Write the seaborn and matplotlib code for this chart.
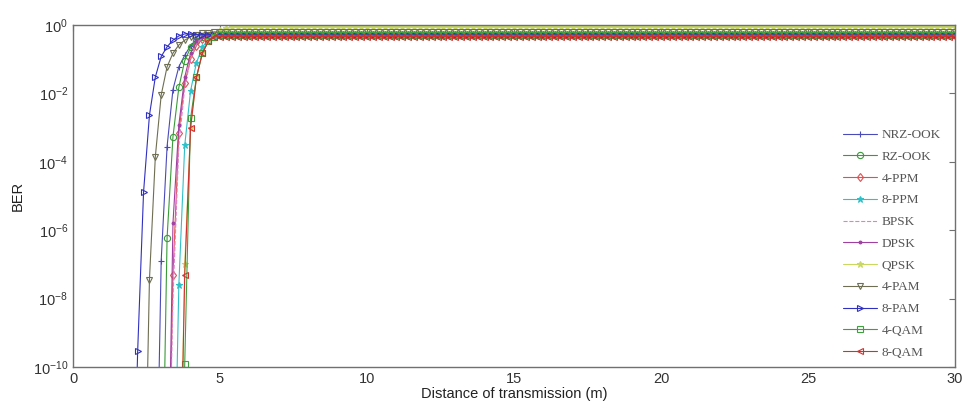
import numpy as np
import pandas as pd
import matplotlib
matplotlib.use("Agg")
import matplotlib.pyplot as plt
import seaborn as sns

# ---------------- data ----------------
series_names = ["NRZ-OOK", "RZ-OOK", "4-PPM", "8-PPM", "BPSK", "DPSK",
                "QPSK", "4-PAM", "8-PAM", "4-QAM", "8-QAM"]
step_m = 0.2            # sampling step of the distance axis (m)
max_distance = 30.0
# distance (m) of the first sample of each rising section
rise_start = [2.8, 3.0, 3.2, 3.4, 3.2, 3.2, 3.6, 2.4, 2.0, 3.6, 3.6]
# BER values of the rising section, one per step
nrz_ook = [1e-16, 1.3e-7, 2.8e-4, 1.3e-2, 0.06, 0.13, 0.25, 0.38, 0.46]
rz_ook  = [1e-16, 6e-7, 5.4e-4, 1.5e-2, 0.09, 0.22, 0.35, 0.45]
ppm4    = [1e-16, 5e-8, 7e-4, 2e-2, 0.1, 0.25, 0.4, 0.48]
ppm8    = [1e-16, 2.5e-8, 3e-4, 1.2e-2, 0.08, 0.22, 0.38, 0.47]
bpsk    = [1e-16, 1e-8, 3e-4, 1.5e-2, 0.1, 0.28, 0.42]
dpsk    = [1e-16, 1.6e-6, 1.2e-3, 3e-2, 0.15, 0.33, 0.45]
qpsk    = [1e-16, 1e-7, 1e-3, 3e-2, 0.15, 0.35, 0.55, 0.7, 0.8]
pam4    = [1e-16, 3.5e-8, 1.4e-4, 9e-3, 6e-2, 0.15, 0.26, 0.36, 0.45, 0.52, 0.57, 0.6]
pam8    = [1e-16, 3e-10, 1.3e-5, 2.3e-3, 3e-2, 0.12, 0.23, 0.36, 0.48, 0.55, 0.55]
qam4    = [1e-16, 1.2e-10, 1.9e-3, 3e-2, 0.15, 0.33, 0.45]
qam8    = [1e-16, 5e-8, 1e-3, 3e-2, 0.15, 0.33, 0.45]
rise_values = [nrz_ook, rz_ook, ppm4, ppm8, bpsk, dpsk, qpsk, pam4, pam8, qam4, qam8]
# saturated BER level reached by each scheme
plateau = [0.5, 0.5, 0.5, 0.5, 0.5, 0.5, 0.85, 0.62, 0.52, 0.5, 0.46]

x_ticks = [0, 5, 10, 15, 20, 25, 30]
y_ticks = [1e-10, 1e-8, 1e-6, 1e-4, 1e-2, 1e0]
y_tick_labels = [r"$10^{-10}$", r"$10^{-8}$", r"$10^{-6}$", r"$10^{-4}$",
                 r"$10^{-2}$", r"$10^{0}$"]

# ---------------- styles ----------------
colors = ["#4a4ab8", "#3a9a3a", "#e05050", "#30c0c8", "#e080c8", "#a040a0",
          "#c8d860", "#6e6e52", "#3030c0", "#40a040", "#d03030"]
markers = ["+", "o", "d", "*", "", ".", "*", "v", ">", "s", "<"]
linestyles = ["-", "-", "-", "-", "--", "-", "-", "-", "-", "-", "-"]
filled = [False, False, False, True, False, True, True, False, False, False, False]

# build long table
rows = []
for name, start, vals, lev in zip(series_names, rise_start, rise_values, plateau):
    n_total = int(round((max_distance - start) / step_m)) + 1
    for i in range(n_total):
        d = round(start + i * step_m, 2)
        v = vals[i] if i < len(vals) else lev
        rows.append((name, d, v))
df = pd.DataFrame(rows, columns=["scheme", "distance", "ber"])

sns.set_theme(style="white")
plt.rcParams["font.family"] = ["Liberation Sans", "DejaVu Sans"]
plt.rcParams["mathtext.fontset"] = "custom"
plt.rcParams["mathtext.rm"] = "Liberation Sans"
plt.rcParams["mathtext.it"] = "Liberation Sans"

fig = plt.figure(figsize=(9.63, 4.15), dpi=100)
ax = fig.add_axes([73 / 963, 1 - 367 / 415, (955 - 73) / 963, (367 - 25) / 415])

for name, c, m, ls, f in zip(series_names, colors, markers, linestyles, filled):
    sub = df[df["scheme"] == name]
    kw = dict(markeredgecolor=c, markeredgewidth=0.8)
    if m:
        kw["marker"] = m
        kw["markersize"] = 4.5 if m != "." else 4
        kw["markerfacecolor"] = c if f else "none"
    sns.lineplot(data=sub, x="distance", y="ber", ax=ax, color=c,
                 linestyle=ls, linewidth=0.8, estimator=None, sort=True,
                 label=name, **kw)

ax.set_yscale("log")
ax.set_xlim(0, 30)
ax.set_ylim(1e-10, 1)
ax.set_xticks(x_ticks)
ax.set_xticklabels([str(t) for t in x_ticks])
ax.set_yticks(y_ticks)
ax.set_yticklabels(y_tick_labels)
ax.minorticks_off()
ax.tick_params(direction="in", length=4, width=0.8, top=True, right=True,
               colors="#707070", labelcolor="#333333", labelsize=10.5)
for s in ax.spines.values():
    s.set_color("#707070")
    s.set_linewidth(1.0)
ax.set_xlabel("Distance of transmission (m)", fontsize=10.5, color="#222222", labelpad=1)
ax.set_ylabel("BER", fontsize=10.5, color="#222222", labelpad=6)

leg = ax.legend(loc="upper left", bbox_to_anchor=(843 / 963, 1 - 129 / 415),
                bbox_transform=fig.transFigure, frameon=False,
                prop={"family": "Liberation Serif", "size": 9.5},
                handlelength=2.6, handletextpad=0.3, labelspacing=0.72,
                borderpad=0, borderaxespad=0)
for t in leg.get_texts():
    t.set_color("#555555")

fig.savefig("out.png", dpi=100)
